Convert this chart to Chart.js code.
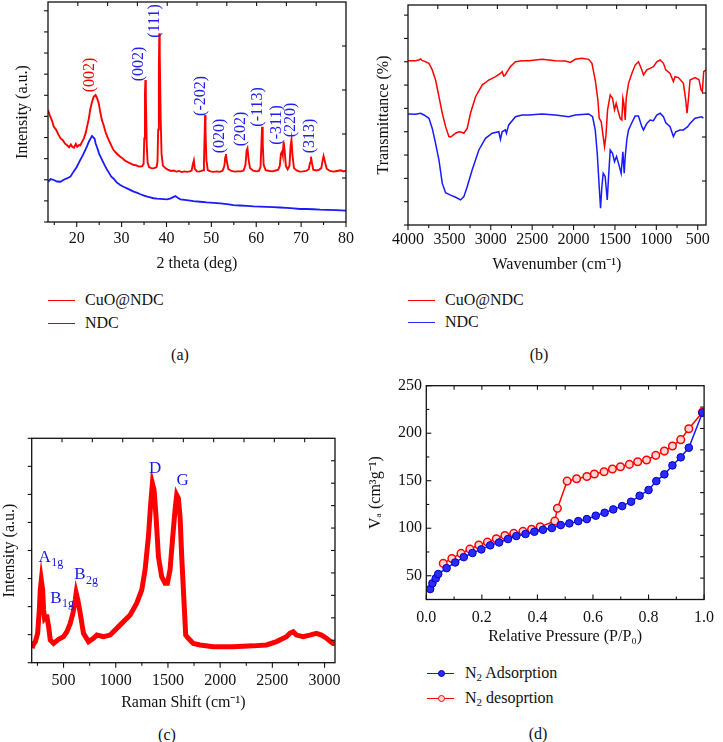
<!DOCTYPE html>
<html><head><meta charset="utf-8">
<script src="https://cdn.jsdelivr.net/npm/chart.js@4.4.1/dist/chart.umd.min.js"></script>
<style>
body{margin:0;background:#fff;}
#wrap{position:relative;width:723px;height:742px;overflow:hidden;font-family:'Liberation Serif','Times New Roman',serif;color:#111;background:#fff;}
canvas{position:absolute;}
.t{position:absolute;font-size:16px;line-height:20px;white-space:nowrap;}
.ln{position:absolute;height:0;width:27px;}
.cap{position:absolute;font-size:16px;line-height:20px;transform:translateX(-50%);white-space:nowrap;}
.dot{position:absolute;width:7px;height:7px;border-radius:50%;box-sizing:border-box;}
sub{font-size:11px;vertical-align:-3px;line-height:0;}
</style></head><body>
<div id="wrap">
<canvas id="cA" width="362" height="280" style="left:0;top:0"></canvas>
<canvas id="cB" width="361" height="280" style="left:362px;top:0"></canvas>
<canvas id="cC" width="362" height="340" style="left:0;top:380px"></canvas>
<canvas id="cD" width="361" height="280" style="left:362px;top:370px"></canvas>

<div class="ln" style="left:48px;top:300px;border-top:1.5px solid #ff0000"></div>
<div class="t" style="left:85px;top:290px">CuO@NDC</div>
<div class="ln" style="left:48px;top:323px;border-top:1.5px solid #2a2aff"></div>
<div class="t" style="left:85px;top:313px">NDC</div>
<div class="cap" style="left:180px;top:345px">(a)</div>

<div class="ln" style="left:408px;top:300px;border-top:1.5px solid #ff0000"></div>
<div class="t" style="left:445px;top:290px">CuO@NDC</div>
<div class="ln" style="left:408px;top:322px;border-top:1.5px solid #2a2aff"></div>
<div class="t" style="left:445px;top:312px">NDC</div>
<div class="cap" style="left:539px;top:345px">(b)</div>

<div class="cap" style="left:167px;top:725px">(c)</div>

<div class="ln" style="left:427px;top:673px;border-top:1.5px solid #1a1aff"></div>
<div class="dot" style="left:437.5px;top:669.5px;background:#2b2bff;border:1px solid #0000c0"></div>
<div class="t" style="left:465px;top:663px">N<sub>2</sub> Adsorption</div>
<div class="ln" style="left:427px;top:698px;border-top:1.5px solid #ff0000"></div>
<div class="dot" style="left:437.5px;top:694.5px;background:#ffd6d6;border:1.5px solid #ff0000"></div>
<div class="t" style="left:465px;top:688px">N<sub>2</sub> desoprtion</div>
<div class="cap" style="left:538px;top:724px">(d)</div>
</div>

<script>
// ---------- (a) XRD ----------
const xrdTicks = [20, 30, 40, 50, 60, 70, 80];
const xrdMinor = [15, 25, 35, 45, 55, 65, 75];
const xrdCuO_x = [13.6,14.0,14.5,14.9,15.4,15.9,16.4,16.9,17.4,17.8,18.3,18.7,19.0,19.4,19.8,20.1,20.5,20.8,21.2,21.6,22.0,22.3,22.7,23.0,23.4,23.8,24.2,24.5,24.9,25.2,25.6,26.0,26.4,26.8,27.3,27.7,28.2,28.7,29.2,29.7,30.2,30.7,31.2,31.7,32.2,32.7,33.2,33.7,34.2,34.6,34.9,35.05,35.2,35.3,35.4,35.6,35.8,36.1,36.6,37.0,37.4,37.8,38.0,38.15,38.3,38.4,38.5,38.7,38.9,39.2,39.8,40.3,41.0,41.6,42.2,42.8,43.4,44.0,44.6,45.2,45.6,45.9,46.1,46.3,46.8,47.3,47.8,48.2,48.35,48.5,48.6,48.7,48.9,49.2,49.8,50.5,51.2,51.9,52.5,52.9,53.1,53.25,53.45,53.8,54.5,55.2,55.9,56.6,57.2,57.6,57.85,58.05,58.3,58.6,59.3,60.0,60.6,60.95,61.15,61.3,61.45,61.65,62.1,62.9,63.6,64.3,64.9,65.25,65.5,65.75,65.9,66.1,66.3,66.6,67.0,67.4,67.65,67.85,68.05,68.4,69.0,69.7,70.4,71.1,71.7,72.0,72.2,72.4,72.7,73.4,74.0,74.5,74.8,75.0,75.3,75.7,76.4,77.2,78.0,78.8,79.5,80.0];
const xrdCuO_y = [50.9,48.5,46.0,43.3,42.0,39.8,38.0,37.2,35.6,35.0,34.0,35.2,34.2,33.8,35.5,34.2,35.0,34.8,36.5,38.0,40.5,43.3,47.0,51.0,54.5,57.0,57.7,56.5,54.0,50.5,46.4,44.0,41.0,38.8,36.5,34.8,32.7,31.6,30.6,29.7,29.0,28.0,27.4,26.9,26.4,25.9,25.8,25.3,25.2,25.4,26.5,38.0,58.0,64.5,57.0,35.0,27.0,25.0,24.5,24.4,24.6,25.0,27.5,42.0,70.0,85.8,76.0,48.0,31.0,25.6,24.4,23.8,23.2,23.4,22.9,23.2,22.7,23.0,22.8,23.0,23.4,26.5,28.0,24.2,23.0,22.9,23.2,23.5,27.0,40.0,48.6,41.0,28.0,23.6,23.0,22.8,23.0,22.8,23.3,25.5,29.5,30.9,27.5,24.0,23.2,22.9,23.0,23.0,23.4,26.0,32.5,33.5,28.5,24.5,23.3,23.0,23.2,25.0,35.0,43.3,35.5,26.0,23.6,23.2,23.0,23.4,23.8,25.5,31.0,32.0,30.5,36.5,33.0,25.5,24.0,25.5,34.5,37.3,31.0,24.5,23.4,22.9,23.0,23.2,24.0,27.0,29.7,27.0,23.8,23.4,23.7,24.5,28.0,30.0,27.5,24.2,23.2,22.9,23.2,23.5,23.0,23.4];
const xrdNDC_x = [13.6,14.2,14.9,15.6,16.4,17.1,17.8,18.6,19.3,20.0,20.8,21.4,21.9,22.3,22.7,23.1,23.4,23.7,24.0,24.2,24.6,25.0,25.3,25.8,26.3,26.8,27.3,27.7,28.2,28.9,29.7,30.4,31.2,32.0,32.7,33.5,34.2,35.0,35.7,36.4,37.1,37.9,38.6,39.4,40.1,40.8,41.5,42.0,42.5,43.1,44.5,46.0,47.5,49.0,50.5,52.0,53.5,54.9,56.4,57.9,59.4,60.9,62.3,63.8,65.3,66.8,68.3,69.8,71.2,72.7,74.2,75.7,77.8,80.0];
const xrdNDC_y = [18.3,19.5,19.1,18.4,18.3,19.2,19.8,20.6,22.9,25.0,28.2,30.5,32.7,34.5,36.5,38.0,39.1,38.5,37.8,35.8,33.5,31.0,29.7,27.6,25.5,23.6,22.0,20.6,19.8,18.0,16.8,16.0,15.3,14.5,13.8,13.2,12.6,12.0,11.5,11.2,10.8,10.6,10.5,10.4,10.3,10.6,11.3,11.8,11.0,10.3,9.9,9.5,9.2,8.9,8.7,8.5,8.1,7.7,7.5,7.3,7.1,7.0,6.9,6.8,6.6,6.4,6.2,5.9,5.9,5.8,5.6,5.5,5.4,5.2];
const xrdPeakText = ['(002)', '(002)', '(111)', '(-202)', '(020)', '(202)', '(-113)', '(-311)', '(220)', '(313)'];
const xrdPeakX = [22.9, 33.8, 37.4, 47.6, 51.9, 56.5, 60.3, 64.5, 67.8, 71.9];
const xrdPeakY = [66.8, 71.8, 91.4, 57.3, 39.1, 42.3, 52.3, 44.1, 46.4, 39.1];

// ---------- (b) FTIR ----------
const ftirTicks = [4000, 3500, 3000, 2500, 2000, 1500, 1000, 500];
const ftirMinor = [3750, 3250, 2750, 2250, 1750, 1250, 750];
const ftirCuO_x = [4000,3908,3870,3847,3830,3807,3747,3707,3667,3626,3586,3546,3506,3486,3466,3425,3385,3355,3325,3285,3245,3184,3104,3024,2943,2883,2863,2843,2823,2815,2762,2702,2622,2541,2461,2381,2300,2220,2100,2039,1979,1899,1818,1778,1738,1706,1690,1666,1642,1626,1609,1589,1557,1529,1505,1485,1465,1437,1417,1404,1392,1376,1364,1336,1296,1256,1216,1175,1155,1115,1075,1035,995,954,914,886,834,794,774,733,673,645,629,613,593,532,484,460,444,428,400];
const ftirCuO_y = [74.7,74.7,75.0,75.5,74.8,74.5,73.5,70.5,65.9,58.3,50.8,44.7,40.2,40.0,40.5,41.7,42.4,42.2,41.7,43.9,50.8,58.3,63.6,65.9,67.4,68.9,69.7,67.7,68.2,68.9,72.0,74.2,74.7,74.7,75.0,75.3,75.0,74.7,74.5,73.9,75.3,75.8,75.3,73.5,65.9,56.8,48.5,47.0,40.2,35.6,40.5,52.3,59.1,57.6,52.3,55.3,52.3,48.5,47.7,57.6,55.3,47.7,57.6,64.4,68.9,72.7,74.2,70.5,68.2,70.5,71.2,72.0,74.2,75.0,73.5,70.5,68.9,65.2,67.4,67.0,64.4,56.8,50.8,56.8,65.9,67.0,66.0,61.4,60.6,69.7,70.5];
const ftirNDC_x = [4000,3908,3847,3807,3747,3707,3667,3626,3586,3546,3486,3425,3365,3325,3285,3225,3144,3064,2983,2903,2883,2863,2823,2811,2783,2702,2622,2541,2381,2220,2059,1979,1818,1770,1738,1714,1690,1674,1658,1642,1618,1593,1577,1557,1529,1505,1481,1457,1425,1404,1388,1376,1356,1336,1296,1256,1216,1175,1155,1115,1075,1035,995,954,914,886,834,794,766,713,673,621,593,532,452,432];
const ftirNDC_y = [50.5,50.3,50.8,50.0,48.5,43.9,37.1,29.5,18.9,14.7,13.6,12.6,11.4,12.9,17.4,25.0,34.1,39.4,41.7,42.4,38.9,42.4,43.2,41.7,45.5,49.2,50.0,50.0,50.5,50.0,49.2,50.0,50.5,49.2,43.2,32.6,17.4,7.6,17.4,23.5,22.0,11.4,22.0,34.1,32.6,28.8,31.1,28.0,23.5,33.3,23.5,31.1,38.9,43.2,46.5,49.5,49.5,44.7,43.2,46.2,47.7,47.4,50.0,50.8,49.2,46.5,44.7,40.2,42.4,43.2,43.2,44.7,46.2,48.5,49.2,48.5];

// ---------- (c) Raman ----------
const ramanTicks = [500, 1000, 1500, 2000, 2500, 3000];
const ramanMinor = [250, 750, 1250, 1750, 2250, 2750];
const raman_x = [198,215,230,252,268,277,287,300,309,318,330,341,357,373,405,452,500,532,564,590,612,621,637,660,691,739,787,819,883,946,1010,1074,1138,1201,1249,1281,1313,1335,1351,1367,1386,1409,1440,1472,1495,1520,1546,1568,1584,1600,1616,1632,1648,1670,1695,1743,1807,1934,2125,2317,2444,2540,2635,2667,2699,2731,2795,2858,2922,2970,3018,3081,3098];
const raman_y = [6.5,8.5,9.4,13.1,23.5,32.4,36.8,32.4,23.5,19.8,20.5,20.5,16.1,10.1,8.6,10.4,11.6,13.8,17.5,22.0,27.9,31.0,27.9,22.0,13.1,9.4,10.9,12.3,11.6,12.3,15.3,18.3,21.3,26.5,32.4,41.3,56.2,71.0,79.9,77.0,65.1,47.2,38.3,35.4,35.4,41.3,56.2,68.0,74.7,73.2,65.1,47.2,32.4,12.3,10.9,8.6,7.9,7.1,7.1,7.5,7.9,9.4,11.6,13.1,13.8,12.3,11.6,12.3,13.1,12.3,10.9,8.6,8.6];
const ramanBandText = ['D', 'G', 'A', 'B', 'B'];
const ramanBandSub = ['', '', '1g', '1g', '2g'];
const ramanBandX = [1377, 1641, 261, 373, 602];
const ramanBandY = [86.6, 81.4, 47.0, 28.8, 39.1];

// ---------- (d) N2 isotherm ----------
const betTicksX = [0, 0.2, 0.4, 0.6, 0.8, 1.0];
const betMinorX = [0.1, 0.3, 0.5, 0.7, 0.9];
const betTicksY = [50, 100, 150, 200, 250];
const betMinorY = [25, 75, 125, 175, 225];
const ads_x = [0.014,0.022,0.034,0.043,0.073,0.104,0.135,0.166,0.198,0.23,0.262,0.294,0.324,0.357,0.389,0.42,0.452,0.484,0.515,0.547,0.578,0.61,0.642,0.673,0.705,0.737,0.768,0.8,0.828,0.857,0.886,0.916,0.945,0.994];
const ads_y = [36,42,47.2,51.8,58,64,69.6,73.9,77.7,82,85,88.6,91.8,93.9,96.3,98.4,100.2,103.3,105.1,107.5,109.6,113.2,116.3,119.8,123.3,127.9,134.2,140.2,149.6,156.7,166.1,174.6,184.7,221.6];
const des_x = [0.061,0.092,0.125,0.157,0.189,0.22,0.252,0.283,0.315,0.348,0.379,0.41,0.4625,0.472,0.507,0.541,0.578,0.605,0.64,0.67,0.699,0.731,0.761,0.793,0.826,0.857,0.886,0.916,0.945,0.994];
const des_y = [63,68.2,73.5,78,82.3,85.4,89,92.3,94.6,96.7,98.9,101.6,107.5,120.9,149.6,152,154.4,157,159.5,162.3,164.7,167.2,170,171.8,176.7,181.2,186.5,193.2,204.7,222];

// ---------- rendering ----------
const FONT = "'Liberation Serif','Times New Roman',serif";
const RED = '#ff0000', BLUE = '#1a1aff', INK = '#111';
Chart.defaults.font.family = FONT;
Chart.defaults.font.size = 16;
Chart.defaults.color = INK;

const framePlugin = {
  id: 'frame',
  afterDraw(chart, args, o) {
    if (!o || !o.sides) return;
    const {ctx, chartArea: a, scales} = chart;
    const xs = scales.x, ys = scales.y;
    ctx.save();
    ctx.strokeStyle = INK; ctx.lineWidth = 1.3;
    ctx.strokeRect(a.left, a.top, a.right - a.left, a.bottom - a.top);
    ctx.lineWidth = 1.1;
    const list = (spec, sc) => {
      const out = [];
      if (spec.major) spec.major.forEach(v => out.push([v, 5]));
      if (spec.minor) spec.minor.forEach(v => out.push([v, 3]));
      if (spec.step) for (let v = sc.min; v <= sc.max + 1e-9; v += spec.step) out.push([v, 4]);
      if (spec.div) for (let k = 1; k < spec.div; k++) out.push([sc.min + k * (sc.max - sc.min) / spec.div, 4]);
      return out;
    };
    const S = o.sides;
    ['bottom', 'top', 'left', 'right'].forEach(side => {
      const spec = S[side]; if (!spec) return;
      const horiz = side === 'bottom' || side === 'top';
      const sc = horiz ? xs : ys;
      const sign = spec.out ? 1 : -1;
      list(spec, sc).forEach(([v, len]) => {
        const p = sc.getPixelForValue(v);
        ctx.beginPath();
        if (side === 'bottom') { ctx.moveTo(p, a.bottom); ctx.lineTo(p, a.bottom + sign * len); }
        if (side === 'top') { ctx.moveTo(p, a.top); ctx.lineTo(p, a.top - sign * len); }
        if (side === 'left') { ctx.moveTo(a.left, p); ctx.lineTo(a.left - sign * len, p); }
        if (side === 'right') { ctx.moveTo(a.right, p); ctx.lineTo(a.right + sign * len, p); }
        ctx.stroke();
      });
    });
    ctx.restore();
  }
};

const labelPlugin = {
  id: 'labels',
  afterDatasetsDraw(chart, args, o) {
    if (!o || !o.items) return;
    const {ctx, scales} = chart;
    ctx.save();
    o.items.forEach(it => {
      const px = scales.x.getPixelForValue(it.x), py = scales.y.getPixelForValue(it.y);
      ctx.fillStyle = it.color;
      ctx.font = `${it.size}px ${FONT}`;
      ctx.textBaseline = 'middle';
      ctx.translate(px, py);
      if (it.rot) ctx.rotate(it.rot);
      ctx.textAlign = it.align || 'center';
      ctx.fillText(it.text, 0, 0);
      if (it.sub) {
        const w = ctx.measureText(it.text).width;
        ctx.font = `${Math.round(it.size * 0.72)}px ${FONT}`;
        ctx.textAlign = 'left';
        ctx.fillText(it.sub, w + 0.5, 6);
      }
      ctx.setTransform(1, 0, 0, 1, 0, 0);
    });
    ctx.restore();
  }
};
Chart.register(framePlugin, labelPlugin);

function series(xa, ya, color, width, extra) {
  return Object.assign({
    data: xa.map((x, i) => ({x, y: ya[i]})),
    showLine: true, borderColor: color, borderWidth: width,
    pointRadius: 0, tension: 0, fill: false
  }, extra || {});
}

function build(id, c) {
  return new Chart(document.getElementById(id), {
    type: 'scatter',
    data: {datasets: c.datasets},
    options: {
      responsive: false, animation: false, devicePixelRatio: 1,
      layout: {padding: c.padding},
      plugins: {legend: {display: false}, tooltip: {enabled: false},
                frame: {sides: c.sides}, labels: {items: c.labels || []}},
      scales: {
        x: {type: 'linear', position: 'bottom', min: c.x.min, max: c.x.max, reverse: !!c.x.reverse,
            afterFit: s => { s.height = c.x.h; },
            afterBuildTicks: s => { s.ticks = c.x.ticks.map(v => ({value: v})); },
            grid: {display: false, drawTicks: false}, border: {display: false},
            ticks: {padding: c.x.tickPad, maxRotation: 0, autoSkip: false, color: INK, font: {size: 16},
                    callback: c.x.fmt || (v => String(v))},
            title: {display: true, text: c.x.title, color: INK, font: {size: 16},
                    padding: {top: 0, bottom: c.x.titlePad}}},
        y: {type: 'linear', position: 'left', min: c.y.min, max: c.y.max,
            afterFit: s => { s.width = c.y.w; },
            afterBuildTicks: s => { if (c.y.ticks) s.ticks = c.y.ticks.map(v => ({value: v})); },
            grid: {display: false, drawTicks: false}, border: {display: false},
            ticks: {display: !!c.y.ticks, padding: c.y.tickPad || 0, color: INK, font: {size: 16},
                    callback: v => String(v)},
            title: {display: true, text: c.y.title, color: INK, font: {size: 16},
                    padding: {top: c.y.titlePad, bottom: 0}}}
      }
    }
  });
}

// (a)
build('cA', {
  datasets: [series(xrdNDC_x, xrdNDC_y, BLUE, 1.8), series(xrdCuO_x, xrdCuO_y, RED, 1.9)],
  padding: {top: 2, right: 16, left: 0, bottom: 0},
  x: {min: 13.6, max: 80, ticks: xrdTicks, h: 58, tickPad: 7, title: '2 theta (deg)', titlePad: 6.4},
  y: {min: 0, max: 100, w: 48, title: 'Intensity (a.u.)', titlePad: 13.4},
  sides: {bottom: {major: xrdTicks, minor: xrdMinor, out: true}, left: {step: 9.6, out: true},
          top: {div: 10}, right: {div: 5}},
  labels: xrdPeakText.map((t, i) => ({x: xrdPeakX[i], y: xrdPeakY[i], text: t, size: 16,
          rot: -Math.PI / 2, color: i === 0 ? RED : '#2020ee'}))
});

// (b)
build('cB', {
  datasets: [series(ftirCuO_x, ftirCuO_y, RED, 1.5), series(ftirNDC_x, ftirNDC_y, BLUE, 1.5)],
  padding: {top: 5, right: 17, left: 0, bottom: 0},
  x: {min: 400, max: 4000, reverse: true, ticks: ftirTicks, h: 55, tickPad: 5.4, title: 'Wavenumber (cm\u207B\u00B9)', titlePad: 5.4},
  y: {min: 0, max: 100, w: 46, title: 'Transmittance (%)', titlePad: 12.1},
  sides: {bottom: {major: ftirTicks, minor: ftirMinor, out: true}, left: {step: 10.6, out: true},
          top: {div: 10}, right: {div: 5}}
});

// (c)
build('cC', {
  datasets: [series(raman_x, raman_y, RED, 5)],
  padding: {top: 58.3, right: 27, left: 0, bottom: 0},
  x: {min: 195, max: 3100, ticks: ramanTicks, h: 57.3, tickPad: 8.4, title: 'Raman Shift (cm\u207B\u00B9)', titlePad: 7.7},
  y: {min: 0, max: 100, w: 31.7, title: 'Intensity (a.u.)', titlePad: 0},
  sides: {bottom: {major: ramanTicks, minor: ramanMinor, out: true}, left: {step: 12.5, out: true},
          top: {div: 10}, right: {div: 10}},
  labels: ramanBandText.map((t, i) => ({x: ramanBandX[i], y: ramanBandY[i], text: t, sub: ramanBandSub[i],
          size: 17, color: '#1717e6', align: i < 2 ? 'center' : 'left'}))
});

// (d)
build('cD', {
  datasets: [
    series(ads_x, ads_y, BLUE, 1.5, {pointRadius: 3.8, pointBackgroundColor: '#2b2bff', pointBorderColor: '#0000c0', pointBorderWidth: 1}),
    series(des_x, des_y, RED, 1.5, {pointRadius: 3.8, pointBackgroundColor: '#ffd6d6', pointBorderColor: RED, pointBorderWidth: 1.5})
  ],
  padding: {top: 15.7, right: 11, left: 0, bottom: 0},
  x: {min: 0, max: 1.0, ticks: betTicksX, h: 50.5, tickPad: 8.9, title: 'Relative Pressure (P/P\u2080)', titlePad: 3.7,
      fmt: v => Number(v).toFixed(1)},
  y: {min: 25, max: 250, w: 64.3, ticks: betTicksY, tickPad: 4.3, title: 'V\u2090 (cm\u00B3g\u207B\u00B9)', titlePad: 3.7},
  sides: {bottom: {major: betTicksX, minor: betMinorX}, left: {major: betTicksY, minor: betMinorY},
          top: {div: 10}, right: {div: 10}}
});
</script>
</body></html>
